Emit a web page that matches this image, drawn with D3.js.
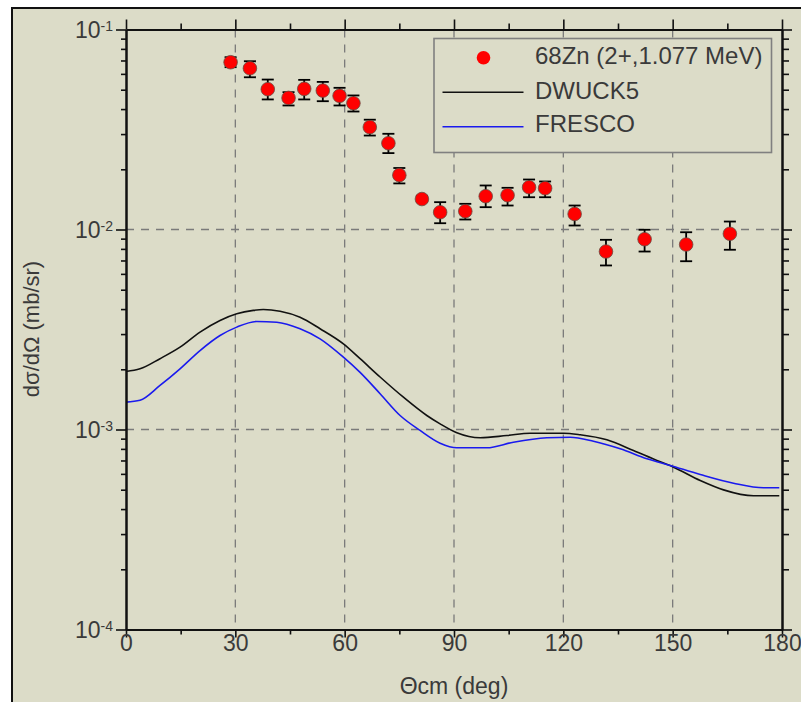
<!DOCTYPE html>
<html>
<head>
<meta charset="utf-8">
<script src="https://cdn.jsdelivr.net/npm/d3@7/dist/d3.min.js"></script>
<style>
  html, body { margin: 0; padding: 0; background: #ffffff; }
  svg { display: block; }
  text { font-family: "Liberation Sans", Arial, sans-serif; fill: #3a3a3a; }
</style>
</head>
<body>
<svg id="chart" width="801" height="702"></svg>
<script>
// ---------------- data ----------------
const expTheta = [28.7, 34.0, 38.9, 44.6, 48.9, 54.0, 58.6, 62.4, 66.9, 72.0, 75.0, 81.2,
                  86.2, 93.1, 98.7, 104.7, 110.6, 115.0, 123.1, 131.7, 142.3, 153.7, 165.7];
const expValue = [0.0686, 0.0640, 0.0503, 0.0455, 0.0505, 0.0495, 0.0466, 0.0428, 0.0325, 0.0270, 0.0187, 0.0142,
                  0.0122, 0.01234, 0.01467, 0.01484, 0.01627, 0.01608, 0.01196, 0.00776, 0.00894, 0.00841, 0.00952];
const expHigh  = [0.0727, 0.0694, 0.0562, 0.0486, 0.0560, 0.0547, 0.0511, 0.0468, 0.0354, 0.0301, 0.0203, 0.0147,
                  0.0137, 0.01344, 0.0166, 0.01616, 0.01778, 0.01738, 0.01318, 0.00888, 0.00997, 0.00969, 0.01096];
const expLow   = [0.0648, 0.0577, 0.0447, 0.0417, 0.0447, 0.0438, 0.0417, 0.0389, 0.0295, 0.0241, 0.0170, 0.0138,
                  0.01075, 0.01122, 0.01293, 0.01318, 0.0145, 0.0145, 0.01047, 0.00661, 0.00776, 0.00694, 0.00792];

const dwuckTheta = [0, 3.84, 9.33, 14.82, 20.31, 25.80, 30.39, 34.94, 37.69, 42.27, 47.76, 53.25, 59.65, 64.23,
                    69.72, 76.12, 82.54, 86.19, 90.78, 97.18, 104.50, 110.90, 120.04, 124.62, 131.95, 139.25,
                    145.68, 150.24, 157.56, 163.96, 172.19, 179.25];
const dwuckValue = [1.95e-3, 2.01e-3, 2.26e-3, 2.58e-3, 3.07e-3, 3.51e-3, 3.79e-3, 3.94e-3, 3.98e-3, 3.90e-3,
                    3.64e-3, 3.19e-3, 2.68e-3, 2.26e-3, 1.83e-3, 1.45e-3, 1.175e-3, 1.067e-3, 9.63e-4, 9.09e-4,
                    9.33e-4, 9.58e-4, 9.58e-4, 9.41e-4, 8.88e-4, 7.85e-4, 7.00e-4, 6.48e-4, 5.56e-4, 4.99e-4,
                    4.66e-4, 4.66e-4];

const frescoTheta = [0, 3.84, 9.33, 14.82, 20.31, 25.80, 30.39, 35.88, 41.37, 47.76, 53.25, 59.65, 64.23, 69.72,
                     75.21, 80.70, 86.19, 90.78, 99.01, 106.31, 115.48, 121.88, 128.27, 135.60, 142.93, 149.33,
                     157.56, 166.70, 174.94, 179.25];
const frescoValue = [1.37e-3, 1.40e-3, 1.66e-3, 2.01e-3, 2.48e-3, 2.95e-3, 3.25e-3, 3.47e-3, 3.44e-3, 3.19e-3,
                     2.84e-3, 2.30e-3, 1.93e-3, 1.51e-3, 1.175e-3, 9.89e-4, 8.54e-4, 8.10e-4, 8.10e-4, 8.64e-4,
                     9.09e-4, 9.15e-4, 8.74e-4, 8.01e-4, 7.14e-4, 6.61e-4, 5.96e-4, 5.39e-4, 5.11e-4, 5.11e-4];

const xTicks = [0, 30, 60, 90, 120, 150, 180];
const xMinorTicks = [15, 45, 75, 105, 135, 165];
const yTicks = [1e-4, 1e-3, 1e-2, 1e-1];
const yTickExp = ["-4", "-3", "-2", "-1"];
const legendLabels = ["68Zn (2+,1.077 MeV)", "DWUCK5", "FRESCO"];

// ---------------- layout ----------------
const svg = d3.select("#chart");
const W = 801, H = 702;
const L = 126, R = 782, T = 29.5, B = 629.5;

// frame / background
svg.append("rect").attr("x", 12).attr("y", 8).attr("width", W + 10).attr("height", H + 10)
  .attr("fill", "#dcdcc8").attr("stroke", "#111").attr("stroke-width", 2);

const x = d3.scaleLinear().domain([0, 180]).range([L, R]);
const y = d3.scaleLog().domain([1e-4, 1e-1]).range([B, T]);

const minorY = [];
for (let e = -4; e < -1; e++) for (let m = 2; m <= 9; m++) minorY.push(m * Math.pow(10, e));

// grid
const grid = svg.append("g").attr("stroke", "#7a7a7a").attr("stroke-width", 1.3)
  .attr("stroke-dasharray", "8,7").attr("fill", "none");
grid.selectAll("line.vx").data(xTicks.slice(1, -1)).join("line")
  .attr("x1", d => x(d)).attr("x2", d => x(d)).attr("y1", T).attr("y2", B);
grid.selectAll("line.hy").data([1e-3, 1e-2]).join("line")
  .attr("x1", L).attr("x2", R).attr("y1", d => y(d)).attr("y2", d => y(d));

// curves
const line = (xs, ys) => d3.line().x((d, i) => x(xs[i])).y((d, i) => y(ys[i])).curve(d3.curveMonotoneX)(xs);
svg.append("path").attr("d", line(dwuckTheta, dwuckValue)).attr("fill", "none")
  .attr("stroke", "#111").attr("stroke-width", 1.6);
svg.append("path").attr("d", line(frescoTheta, frescoValue)).attr("fill", "none")
  .attr("stroke", "#1a1aee").attr("stroke-width", 1.6);

// error bars and points
const pts = expTheta.map((t, i) => ({ t, v: expValue[i], hi: expHigh[i], lo: expLow[i] }));
const eb = svg.append("g").attr("stroke", "#000").attr("stroke-width", 1.8);
eb.selectAll("line.v").data(pts).join("line")
  .attr("x1", d => x(d.t)).attr("x2", d => x(d.t)).attr("y1", d => y(d.hi)).attr("y2", d => y(d.lo));
eb.selectAll("line.h").data(pts).join("line")
  .attr("x1", d => x(d.t) - 6).attr("x2", d => x(d.t) + 6).attr("y1", d => y(d.hi)).attr("y2", d => y(d.hi));
eb.selectAll("line.l").data(pts).join("line")
  .attr("x1", d => x(d.t) - 6).attr("x2", d => x(d.t) + 6).attr("y1", d => y(d.lo)).attr("y2", d => y(d.lo));
svg.append("g").selectAll("circle").data(pts).join("circle")
  .attr("cx", d => x(d.t)).attr("cy", d => y(d.v)).attr("r", 6.8)
  .attr("fill", "#ff0000").attr("stroke", "#6a4a40").attr("stroke-width", 0.8);

// axes
function styleAxis(g) {
  g.select(".domain").attr("stroke", "#111").attr("stroke-width", 2);
  g.selectAll(".tick line").attr("stroke", "#111").attr("stroke-width", 1.6);
}
const gB = svg.append("g").attr("transform", `translate(0,${B})`)
  .call(d3.axisBottom(x).tickValues(xTicks).tickSize(8).tickSizeOuter(0).tickFormat(d3.format("d")));
styleAxis(gB);
gB.selectAll("text").attr("y", 21).attr("dy", 0).style("font-size", "23px").attr("fill", "#3a3a3a");
const gBm = svg.append("g").attr("transform", `translate(0,${B})`)
  .call(d3.axisBottom(x).tickValues(xMinorTicks).tickSize(5).tickSizeOuter(0).tickFormat(""));
styleAxis(gBm);

const gT = svg.append("g").attr("transform", `translate(0,${T})`)
  .call(d3.axisTop(x).tickValues(xTicks).tickSize(10).tickSizeOuter(0).tickFormat(""));
styleAxis(gT);
const gTm = svg.append("g").attr("transform", `translate(0,${T})`)
  .call(d3.axisTop(x).tickValues(xMinorTicks).tickSize(6).tickSizeOuter(0).tickFormat(""));
styleAxis(gTm);

const gL = svg.append("g").attr("transform", `translate(${L},0)`)
  .call(d3.axisLeft(y).tickValues(yTicks).tickSize(10).tickSizeOuter(0).tickFormat(""));
styleAxis(gL);
const gLm = svg.append("g").attr("transform", `translate(${L},0)`)
  .call(d3.axisLeft(y).tickValues(minorY).tickSize(5).tickSizeOuter(0).tickFormat(""));
styleAxis(gLm);
const gR = svg.append("g").attr("transform", `translate(${R},0)`)
  .call(d3.axisRight(y).tickValues(yTicks).tickSize(10).tickSizeOuter(0).tickFormat(""));
styleAxis(gR);
const gRm = svg.append("g").attr("transform", `translate(${R},0)`)
  .call(d3.axisRight(y).tickValues(minorY).tickSize(7).tickSizeOuter(0).tickFormat(""));
styleAxis(gRm);

// y tick labels with superscripts
gL.selectAll(".tick").each(function (d) {
  const i = yTicks.indexOf(d);
  const t = d3.select(this).append("text").attr("x", -13).attr("y", 0).attr("dy", "0.36em")
    .attr("text-anchor", "end").style("font-size", "23px").attr("fill", "#3a3a3a");
  t.append("tspan").text("10");
  t.append("tspan").attr("dy", "-0.5em").style("font-size", "14px").text(yTickExp[i]);
});

// axis titles
svg.append("text").attr("x", 454).attr("y", 694).attr("text-anchor", "middle")
  .style("font-size", "23px").text("Θcm (deg)");
svg.append("text").attr("transform", "translate(39,329) rotate(-90)").attr("text-anchor", "middle")
  .style("font-size", "22px").text("dσ/dΩ (mb/sr)");

// legend
const lg = svg.append("g");
lg.append("rect").attr("x", 434).attr("y", 38.5).attr("width", 337.5).attr("height", 114)
  .attr("fill", "#dcdcc8").attr("stroke", "#808080").attr("stroke-width", 1.6);
lg.append("circle").attr("cx", 483.5).attr("cy", 57.8).attr("r", 6.8).attr("fill", "#ff0000");
lg.append("line").attr("x1", 442.5).attr("x2", 523.5).attr("y1", 92.3).attr("y2", 92.3)
  .attr("stroke", "#111").attr("stroke-width", 1.6);
lg.append("line").attr("x1", 442.5).attr("x2", 523.5).attr("y1", 126.7).attr("y2", 126.7)
  .attr("stroke", "#1a1aee").attr("stroke-width", 1.6);
const ly = [64, 98.5, 132];
lg.selectAll("text").data(legendLabels).join("text")
  .attr("x", 535).attr("y", (d, i) => ly[i]).style("font-size", "24px").text(d => d);
</script>
</body>
</html>
